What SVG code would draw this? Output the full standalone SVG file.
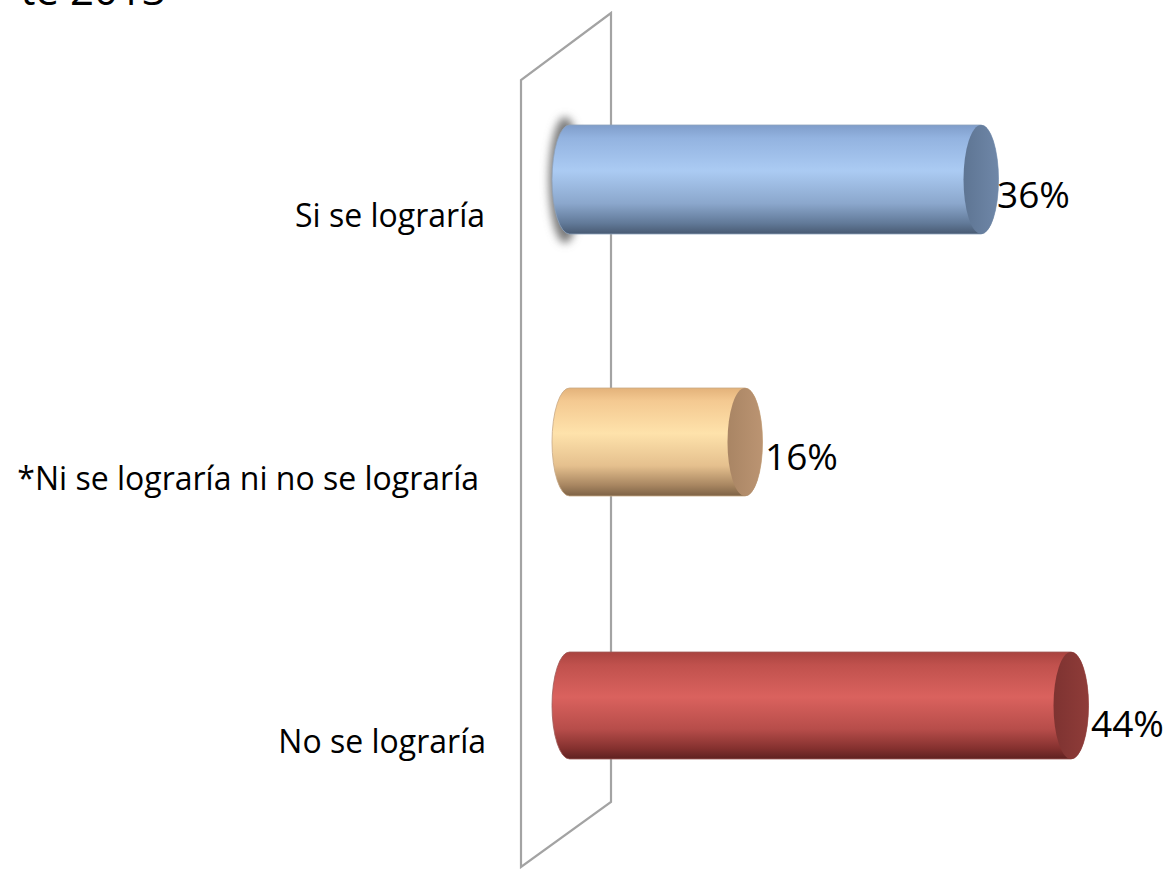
<svg xmlns="http://www.w3.org/2000/svg" width="1169" height="869" viewBox="0 0 1169 869">
<style>
  .lbl { font-family: "Open Sans", "Liberation Sans", sans-serif; font-size: 32px; fill: #000; text-anchor: end; }
  .pct { font-family: "Open Sans", "Liberation Sans", sans-serif; font-size: 37px; fill: #000; }
  .title { font-family: "Open Sans", "Liberation Sans", sans-serif; font-size: 42px; fill: #000; text-anchor: end; }
  .wall { fill: none; stroke: #a3a3a3; stroke-width: 2.2; stroke-linejoin: miter; }
</style>
<defs>
  <linearGradient id="gBlue" x1="0" y1="0" x2="0" y2="1">
    <stop offset="0" stop-color="#7f9dca"/>
    <stop offset="0.12" stop-color="#93b3e0"/>
    <stop offset="0.42" stop-color="#abcbf3"/>
    <stop offset="0.72" stop-color="#8ba7cc"/>
    <stop offset="0.9" stop-color="#627a99"/>
    <stop offset="1" stop-color="#485a72"/>
  </linearGradient>
  <linearGradient id="gBlueCap" x1="0" y1="0" x2="1" y2="0">
    <stop offset="0" stop-color="#5e7593"/>
    <stop offset="1" stop-color="#6f87a8"/>
  </linearGradient>
  <linearGradient id="gOrange" x1="0" y1="0" x2="0" y2="1">
    <stop offset="0" stop-color="#e3b27a"/>
    <stop offset="0.12" stop-color="#f4c991"/>
    <stop offset="0.42" stop-color="#fee2ab"/>
    <stop offset="0.72" stop-color="#e5c08e"/>
    <stop offset="0.9" stop-color="#a88661"/>
    <stop offset="1" stop-color="#7d6246"/>
  </linearGradient>
  <linearGradient id="gOrangeCap" x1="0" y1="0" x2="1" y2="0">
    <stop offset="0" stop-color="#a98564"/>
    <stop offset="1" stop-color="#bb9472"/>
  </linearGradient>
  <linearGradient id="gRed" x1="0" y1="0" x2="0" y2="1">
    <stop offset="0" stop-color="#a9433f"/>
    <stop offset="0.12" stop-color="#c0514d"/>
    <stop offset="0.42" stop-color="#da625e"/>
    <stop offset="0.72" stop-color="#b74d4a"/>
    <stop offset="0.9" stop-color="#85312f"/>
    <stop offset="1" stop-color="#5e2120"/>
  </linearGradient>
  <linearGradient id="gRedCap" x1="0" y1="0" x2="1" y2="0">
    <stop offset="0" stop-color="#7e3331"/>
    <stop offset="1" stop-color="#8f3c39"/>
  </linearGradient>
  <filter id="blur" x="-1" y="-1" width="3" height="3">
    <feGaussianBlur stdDeviation="4"/>
  </filter>
</defs>

<rect x="0" y="0" width="1169" height="869" fill="#ffffff"/>

<text class="title" x="166" y="5">te 2013</text>

<g id="wall">
  <path class="wall" d="M521,867 L521,80 L611,13 L611,802 Z"/>
</g>

<g id="bar-si">
  <ellipse cx="565" cy="180" rx="16" ry="63" fill="#7a7a7a" filter="url(#blur)"/>
  <path d="M569.5,125 L981,125 A17.5,54.5 0 0 1 981,234 L569.5,234 A17.5,54.5 0 0 1 569.5,125 Z" fill="url(#gBlue)" stroke="#8ea2bb" stroke-width="0.8"/>
  <ellipse cx="981" cy="179.5" rx="17.5" ry="54.5" fill="url(#gBlueCap)"/>
  <text class="pct" x="997" y="208">36%</text>
  <text class="lbl" x="485" y="227">Si se lograría</text>
</g>

<g id="bar-ni">
  <path d="M569.5,388 L745,388 A17.5,54 0 0 1 745,496 L569.5,496 A17.5,54 0 0 1 569.5,388 Z" fill="url(#gOrange)" stroke="#c8aa86" stroke-width="0.8"/>
  <ellipse cx="745" cy="442" rx="17.5" ry="54" fill="url(#gOrangeCap)"/>
  <text class="pct" x="765" y="470">16%</text>
  <text class="lbl" x="479" y="490">*Ni se lograría ni no se lograría</text>
</g>

<g id="bar-no">
  <path d="M569.5,652 L1071,652 A17.5,53.5 0 0 1 1071,759 L569.5,759 A17.5,53.5 0 0 1 569.5,652 Z" fill="url(#gRed)" stroke="#a05a58" stroke-width="0.8"/>
  <ellipse cx="1071" cy="705.5" rx="17.5" ry="53.5" fill="url(#gRedCap)"/>
  <text class="pct" x="1091" y="737">44%</text>
  <text class="lbl" x="486" y="753">No se lograría</text>
</g>
</svg>
